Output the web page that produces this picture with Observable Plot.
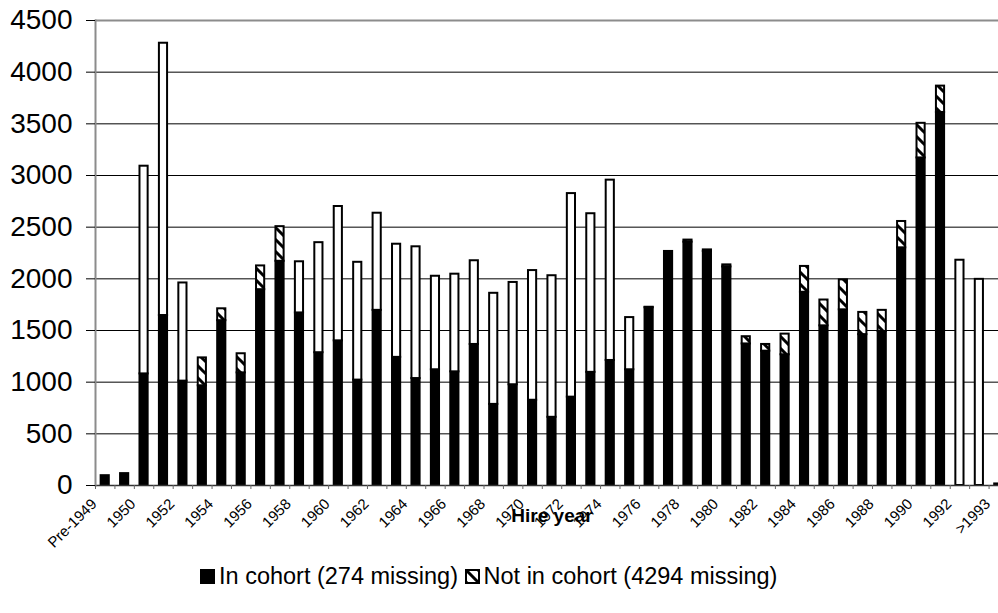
<!DOCTYPE html>
<html><head><meta charset="utf-8">
<script src="https://cdn.jsdelivr.net/npm/d3@7"></script>
<script src="https://cdn.jsdelivr.net/npm/@observablehq/plot@0.6"></script>
<style>
html,body{margin:0;padding:0;background:#fff;overflow:hidden;width:998px;height:613px}
#chart{position:absolute;left:0;top:0;width:1008px}
#legend{position:absolute;left:200px;top:562px;font:23.5px "Liberation Sans",Arial,sans-serif;line-height:28px;display:flex;align-items:center;white-space:nowrap;color:#000}
.sw{width:15px;height:15px;display:inline-block;margin-right:4px}
</style></head><body>
<svg width="0" height="0" style="position:absolute"><defs>
<pattern id="hatch" patternUnits="userSpaceOnUse" width="12" height="12">
<rect width="12" height="12" fill="white"/>
<path d="M-6,6 L6,18 M0,0 L12,12 M6,-6 L18,6" stroke="black" stroke-width="3"/>
</pattern></defs></svg>
<div id="chart"></div>
<div id="legend"><span class="sw" style="background:#000"></span>In cohort (274 missing)&nbsp;<svg width="15" height="15" style="margin-right:4px"><rect x="1" y="1" width="13" height="13" fill="url(#hatch)" stroke="black" stroke-width="2"/></svg>Not in cohort (4294 missing)</div>
<script>
const categories = ["Pre-1949","1949","1950","1951","1952","1953","1954","1955","1956","1957","1958","1959",
  "1960","1961","1962","1963","1964","1965","1966","1967","1968","1969","1970","1971","1972","1973","1974",
  "1975","1976","1977","1978","1979","1980","1981","1982","1983","1984","1985","1986","1987","1988","1989",
  "1990","1991","1992","1993",">1993"];
const inCohort = [95,115,1080,1645,1010,965,1595,1090,1895,2170,1670,1285,
  1400,1020,1695,1240,1035,1120,1100,1365,785,975,825,660,855,1095,1210,
  1120,1720,2265,2355,2265,2115,1370,1300,1265,1870,1545,1700,1460,1490,2300,
  3170,3610,0,0,15];
const notInCohort = [0,0,2010,2635,950,270,115,185,230,335,495,1065,
  1300,1140,940,1095,1275,905,945,810,1075,990,1255,1370,1970,1535,1745,
  505,5,0,20,15,20,70,65,200,250,250,290,215,205,255,
  335,255,2180,1995,0];
const seriesNames = ["In cohort","Not in cohort"];
const tickLabels = ["Pre-1949","1950","1952","1954","1956","1958","1960","1962","1964","1966","1968","1970",
  "1972","1974","1976","1978","1980","1982","1984","1986","1988","1990","1992",">1993"];
const yTicks = [0,500,1000,1500,2000,2500,3000,3500,4000,4500];
const gridTicks = [500,1000,1500,2000,2500,3000,3500,4000];

const rows = [];
categories.forEach((c, i) => {
  rows.push({cat: c, series: seriesNames[0], value: inCohort[i]});
  rows.push({cat: c, series: seriesNames[1], value: notInCohort[i]});
});
const data = rows.filter(d => d.value > 0);

const W = 1008, ML = 95;
const step = (W - ML) / categories.length;

const chart = Plot.plot({
  width: W, height: 550,
  marginLeft: ML, marginRight: 0, marginTop: 20, marginBottom: 65,
  style: {fontFamily: "'Liberation Sans', Arial, sans-serif", background: "white", color: "black", maxWidth: "none", overflow: "visible"},
  x: {domain: categories, paddingInner: 0.58, paddingOuter: 0.29, round: false, axis: null, label: null},
  y: {domain: [0, 4500], axis: null, label: null},
  color: {type: "identity"},
  marks: [
    Plot.gridY(gridTicks, {stroke: "black", strokeOpacity: 1, strokeWidth: 1}),
    Plot.ruleY([4500], {stroke: "#8c8c8c", strokeWidth: 2}),
    Plot.barY(data, Plot.stackY({
      x: "cat", y: "value", z: "series", order: seriesNames,
      fill: d => d.series === "In cohort" ? "black" : (d.value < 400 ? "url(#hatch)" : "white"),
      stroke: "black", strokeWidth: 2
    })),
    Plot.ruleY([0], {stroke: "#333", strokeWidth: 1.5}),
    Plot.frame({anchor: "left", stroke: "#8c8c8c", strokeWidth: 2}),
    Plot.axisY({ticks: yTicks, tickSize: 9, tickPadding: 14, fontSize: 28, label: null, stroke: "black",
      tickFormat: d => String(d)}),
    Plot.axisX({ticks: categories, tickSize: 4, tickFormat: () => "", dx: -step / 2, stroke: "#666", label: null}),
    Plot.text(tickLabels, {x: d => d, frameAnchor: "bottom", dy: 16, dx: -11, rotate: -45,
      textAnchor: "end", lineAnchor: "middle", fontSize: 15, fill: "black"}),
    Plot.text(["Hire year"], {frameAnchor: "bottom", dy: 36, fontWeight: "bold", fontSize: 19, fill: "black"})
  ]
});
document.getElementById("chart").appendChild(chart);
</script>
</body></html>
